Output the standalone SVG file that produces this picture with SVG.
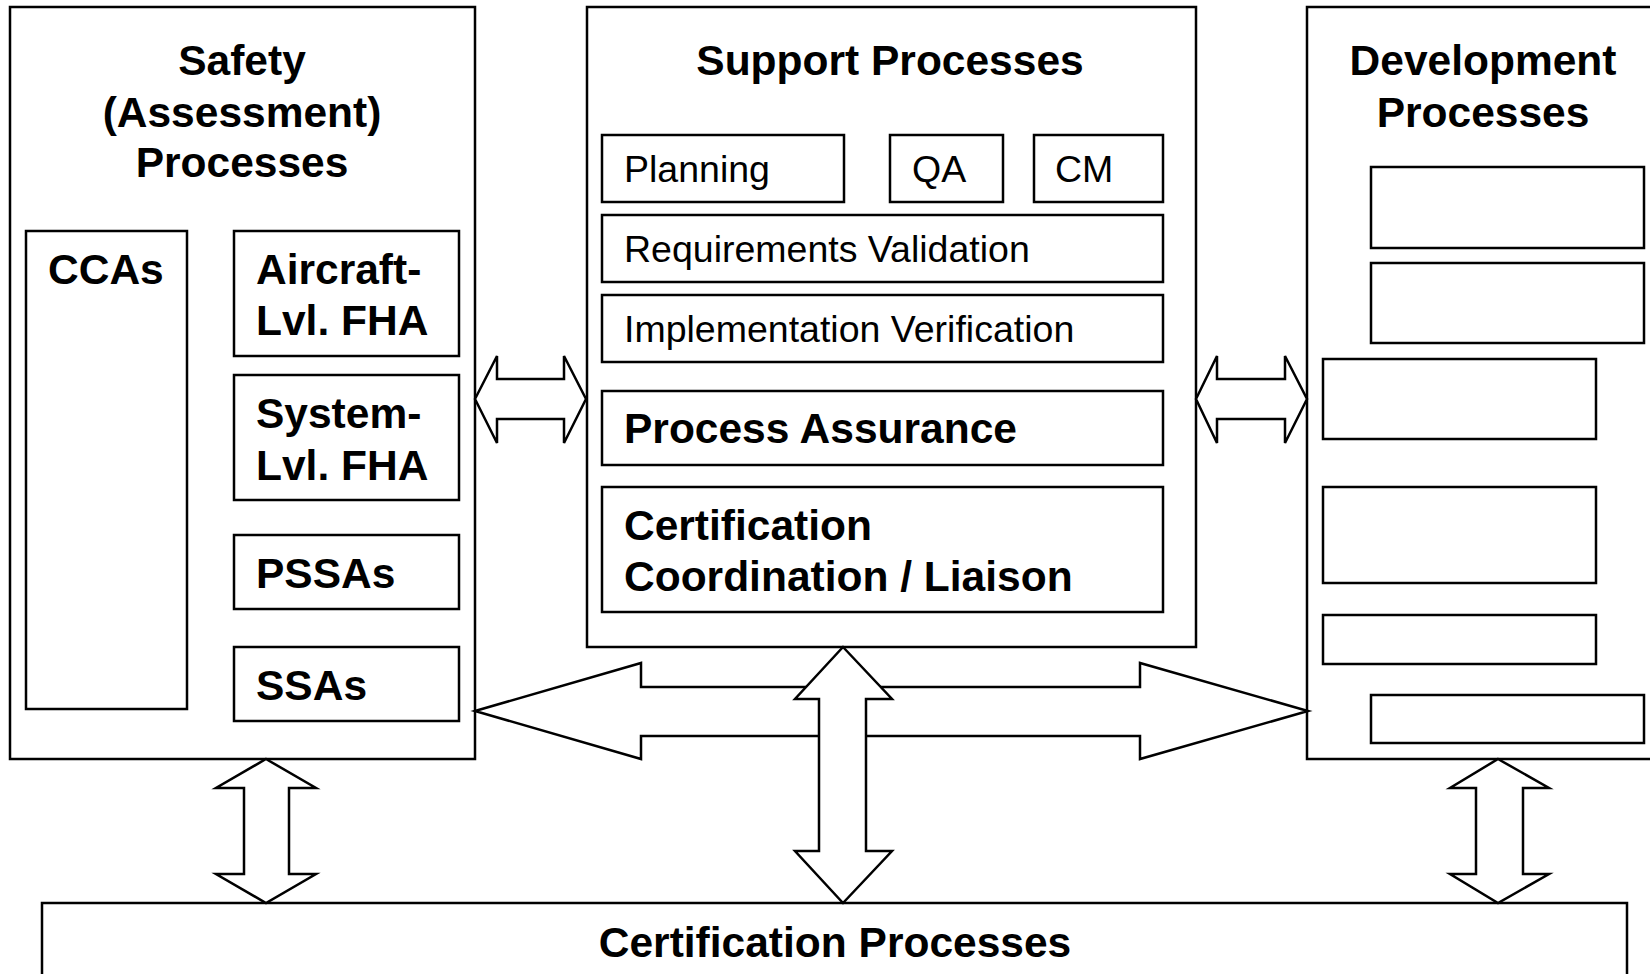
<svg xmlns="http://www.w3.org/2000/svg" width="1650" height="974" viewBox="0 0 1650 974">
  <style>
    .box { fill: #fff; stroke: #000; stroke-width: 2.5; }
    .arrow { fill: #fff; stroke: #000; stroke-width: 2.5; stroke-linejoin: miter; }
    .title { font-family: "Liberation Sans", Arial, sans-serif; font-weight: bold; font-size: 42.5px; fill: #000; }
    .label { font-family: "Liberation Sans", Arial, sans-serif; font-size: 37.5px; fill: #000; }
  </style>
  <rect width="1650" height="974" fill="#fff"/>

  <!-- Safety (Assessment) Processes -->
  <g id="safety">
    <rect class="box" x="10" y="7" width="465" height="752"/>
    <text class="title" text-anchor="middle" x="242" y="75">Safety</text>
    <text class="title" text-anchor="middle" x="242" y="127">(Assessment)</text>
    <text class="title" text-anchor="middle" x="242" y="177">Processes</text>
  </g>
  <g id="ccas">
    <rect class="box" x="26" y="231" width="161" height="478"/>
    <text class="title" x="48" y="284">CCAs</text>
  </g>
  <g id="aircraft-fha">
    <rect class="box" x="234" y="231" width="225" height="125"/>
    <text class="title" x="256" y="284">Aircraft-</text>
    <text class="title" x="256" y="335">Lvl. FHA</text>
  </g>
  <g id="system-fha">
    <rect class="box" x="234" y="375" width="225" height="125"/>
    <text class="title" x="256" y="428">System-</text>
    <text class="title" x="256" y="480">Lvl. FHA</text>
  </g>
  <g id="pssas">
    <rect class="box" x="234" y="535" width="225" height="74"/>
    <text class="title" x="256" y="588">PSSAs</text>
  </g>
  <g id="ssas">
    <rect class="box" x="234" y="647" width="225" height="74"/>
    <text class="title" x="256" y="700">SSAs</text>
  </g>

  <!-- Support Processes -->
  <g id="support">
    <rect class="box" x="587" y="7" width="609" height="640"/>
    <text class="title" text-anchor="middle" x="890" y="75">Support Processes</text>
  </g>
  <g id="planning">
    <rect class="box" x="602" y="135" width="242" height="67"/>
    <text class="label" x="624" y="182">Planning</text>
  </g>
  <g id="qa">
    <rect class="box" x="890" y="135" width="113" height="67"/>
    <text class="label" x="912" y="182">QA</text>
  </g>
  <g id="cm">
    <rect class="box" x="1034" y="135" width="129" height="67"/>
    <text class="label" x="1055" y="182">CM</text>
  </g>
  <g id="requirements-validation">
    <rect class="box" x="602" y="215" width="561" height="67"/>
    <text class="label" x="624" y="262">Requirements Validation</text>
  </g>
  <g id="implementation-verification">
    <rect class="box" x="602" y="295" width="561" height="67"/>
    <text class="label" x="624" y="342">Implementation Verification</text>
  </g>
  <g id="process-assurance">
    <rect class="box" x="602" y="391" width="561" height="74"/>
    <text class="title" x="624" y="443">Process Assurance</text>
  </g>
  <g id="certification-liaison">
    <rect class="box" x="602" y="487" width="561" height="125"/>
    <text class="title" x="624" y="540">Certification</text>
    <text class="title" x="624" y="591">Coordination / Liaison</text>
  </g>

  <!-- Development Processes -->
  <g id="development">
    <rect class="box" x="1307" y="7" width="360" height="752"/>
    <text class="title" text-anchor="middle" x="1483" y="75">Development</text>
    <text class="title" text-anchor="middle" x="1483" y="127">Processes</text>
    <rect class="box" x="1371" y="167" width="273" height="81"/>
    <rect class="box" x="1371" y="263" width="273" height="80"/>
    <rect class="box" x="1323" y="359" width="273" height="80"/>
    <rect class="box" x="1323" y="487" width="273" height="96"/>
    <rect class="box" x="1323" y="615" width="273" height="49"/>
    <rect class="box" x="1371" y="695" width="273" height="48"/>
  </g>

  <!-- Certification Processes -->
  <g id="certification">
    <rect class="box" x="42" y="903" width="1585" height="90"/>
    <text class="title" text-anchor="middle" x="835" y="957">Certification Processes</text>
  </g>

  <!-- Block arrows between the process groups -->
  <g id="connectors">
    <polygon class="arrow" points="475,399 497,356 497,379 564,379 564,356 586,399 564,443 564,419 497,419 497,443"/>
    <polygon class="arrow" points="1196,399 1217,356 1217,379 1285,379 1285,356 1307,399 1285,443 1285,419 1217,419 1217,443"/>
    <polygon class="arrow" points="475,711 641,663 641,687 1140,687 1140,663 1308,711 1140,759 1140,736 641,736 641,759"/>
    <polygon class="arrow" points="843,647 892,699 866,699 866,851 892,851 843,903 795,851 819,851 819,699 795,699"/>
    <polygon class="arrow" points="266,759 316,788 289,788 289,874 316,874 266,903 216,874 244,874 244,788 216,788"/>
    <polygon class="arrow" points="1498,759 1549,788 1523,788 1523,874 1549,874 1498,903 1450,874 1476,874 1476,788 1450,788"/>
  </g>
</svg>
